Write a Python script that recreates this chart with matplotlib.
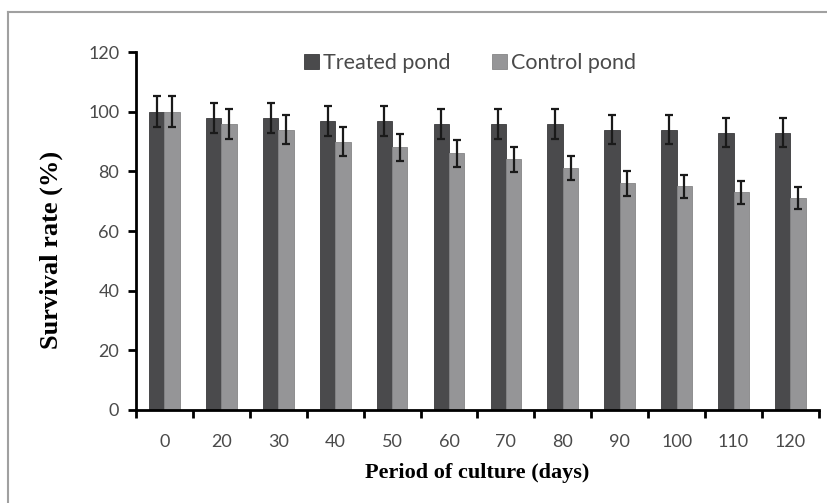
import numpy as np
import matplotlib.pyplot as plt
from matplotlib.lines import Line2D

days = ['0', '20', '30', '40', '50', '60', '70', '80', '90', '100', '110', '120']
treated = [100, 98, 98, 97, 97, 96, 96, 96, 94, 94, 93, 93]
treated_err = [5.2, 5, 5, 5, 5, 5, 5, 5, 5, 5, 5, 5]
control = [100, 96, 94, 90, 88, 86, 84, 81, 76, 75, 73, 71]
control_err = [5.2, 5, 4.8, 4.7, 4.5, 4.4, 4.2, 4.0, 4.2, 3.8, 3.8, 3.6]

fig = plt.figure(figsize=(8.28, 5.03), dpi=100)
ax = fig.add_axes([0.1643, 0.1849, 0.8247, 0.7117])

# grey frame round the chart
fig.add_artist(Line2D([8 / 828, 1], [1 - 12 / 503, 1 - 12 / 503], transform=fig.transFigure,
                      color='#a0a0a0', lw=1.5))
fig.add_artist(Line2D([8 / 828, 8 / 828], [0, 1 - 12 / 503], transform=fig.transFigure,
                      color='#a0a0a0', lw=1.5))

x = np.arange(len(days))
w = 0.27
ekw = dict(elinewidth=1.6, capthick=1.6, ecolor='#1a1a1a')
ax.bar(x - w / 2, treated, w, yerr=treated_err, capsize=3, color='#4a4a4c',
       edgecolor='#3a3a3c', linewidth=0.6, error_kw=ekw, label='Treated pond')
ax.bar(x + w / 2, control, w, yerr=control_err, capsize=3, color='#959597',
       edgecolor='#858587', linewidth=0.6, error_kw=ekw, label='Control pond')

ax.set_xlim(-0.5, len(days) - 0.5)
ax.set_ylim(0, 120)
ax.set_yticks(range(0, 121, 20))
ax.set_xticks(x)
ax.set_xticklabels(days)
ax.set_xticks(np.arange(-0.5, len(days)), minor=True)
ax.tick_params(axis='x', which='major', length=0, pad=17)
ax.tick_params(axis='x', which='minor', length=6, width=2, direction='out')
ax.tick_params(axis='y', length=6, width=2, direction='out', pad=6)
ax.tick_params(labelsize=13, labelcolor='#4a4a4a')
for lab in ax.get_xticklabels() + ax.get_yticklabels():
    lab.set_family('Lato')

for s in ['top', 'right']:
    ax.spines[s].set_visible(False)
for s in ['left', 'bottom']:
    ax.spines[s].set_linewidth(2)

ax.set_xlabel('Period of culture (days)', family='Liberation Serif', fontweight='bold',
              fontsize=16, labelpad=10)
ax.set_ylabel('Survival rate (%)', family='Liberation Serif', fontweight='bold',
              fontsize=19)
ax.yaxis.set_label_coords(-0.107, 0.447)

leg = ax.legend(loc='center', bbox_to_anchor=(0.489, 0.969), ncol=2, frameon=False,
                prop={'family': 'Lato', 'size': 15.5}, handlelength=0.7, handleheight=0.7,
                handletextpad=0.2, columnspacing=1.9)
for t in leg.get_texts():
    t.set_color('#4a4a4a')

fig.savefig('out.png', dpi=100)
